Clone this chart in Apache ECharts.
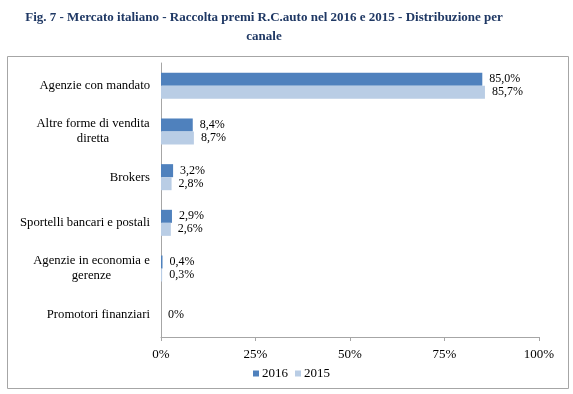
<!DOCTYPE html>
<html><head><meta charset="utf-8">
<script src="https://cdn.jsdelivr.net/npm/echarts@6/dist/echarts.min.js"></script>
<style>html,body{margin:0;padding:0;background:#fff}#c{width:573px;height:394px}</style>
</head><body><div id="c"></div>
<script>
var categories = ["Agenzie con mandato", "Altre forme di vendita\ndiretta", "Brokers", "Sportelli bancari e postali", "Agenzie in economia e\ngerenze", "Promotori finanziari"];
var values2016 = [85.0, 8.4, 3.2, 2.9, 0.4, 0];
var values2015 = [85.7, 8.7, 2.8, 2.6, 0.3, 0];
var xTicks = [0, 25, 50, 75, 100];
var seriesNames = ["2016", "2015"];
var titleText = "Fig. 7 - Mercato italiano - Raccolta premi R.C.auto nel 2016 e 2015 - Distribuzione per\ncanale";

var FONT = '"Liberation Serif", "Times New Roman", serif';
var CAT_SIZE = 12.7;
var chart = echarts.init(document.getElementById('c'));

function fmt(v) { return v === 0 ? '0%' : v.toFixed(1).replace('.', ',') + '%'; }

var ctx = document.createElement('canvas').getContext('2d');
ctx.font = CAT_SIZE + 'px ' + FONT;
function blockWidth(val) {
  var lines = val.split('\n');
  return Math.ceil(Math.max.apply(null, lines.map(function (l) { return ctx.measureText(l).width; })));
}
function catFormatter(val) {
  var lines = val.split('\n');
  if (lines.length === 1) return val;
  var key = 'c' + blockWidth(val);
  return lines.map(function (l) { return '{' + key + '|' + l + '}'; }).join('\n');
}
var rich = {};
categories.forEach(function (c) {
  if (c.indexOf('\n') >= 0) {
    var w = blockWidth(c);
    rich['c' + w] = { width: w, align: 'center', fontFamily: FONT, fontSize: CAT_SIZE, color: '#000', lineHeight: 15 };
  }
});

chart.setOption({
  animation: false,
  title: {
    text: titleText, left: 259, top: 3, textAlign: 'center',
    textStyle: { fontFamily: FONT, fontSize: 13, fontWeight: 'bold', color: '#1f3864', lineHeight: 19 }
  },
  graphic: [{
    type: 'rect', shape: { x: 7.5, y: 56.5, width: 561, height: 332 },
    style: { fill: 'none', stroke: '#a6a6a6', lineWidth: 1 }, silent: true
  }],
  legend: {
    bottom: 9, left: 248, itemWidth: 6, itemHeight: 6, itemGap: 7,
    icon: 'rect', data: seriesNames,
    textStyle: { fontFamily: FONT, fontSize: 13, color: '#000', padding: [0, 0, 0, -2] }
  },
  grid: { left: 161, right: 34, top: 63, bottom: 57, containLabel: false },
  xAxis: {
    type: 'value', min: 0, max: 100, interval: 25,
    axisLine: { show: true, lineStyle: { color: '#a6a6a6' } },
    axisTick: { show: true, inside: false, length: 4, lineStyle: { color: '#a6a6a6' } },
    splitLine: { show: false },
    axisLabel: {
      margin: 11, fontFamily: FONT, fontSize: 13, color: '#000',
      formatter: function (v) { return xTicks.indexOf(v) >= 0 ? v + '%' : ''; }
    }
  },
  yAxis: {
    type: 'category', inverse: true, data: categories,
    axisLine: { show: true, lineStyle: { color: '#a6a6a6' } },
    axisTick: { show: false },
    axisLabel: {
      margin: 11, fontFamily: FONT, fontSize: CAT_SIZE, color: '#000', lineHeight: 15,
      formatter: catFormatter, rich: rich
    }
  },
  series: [
    {
      name: seriesNames[0], type: 'bar', data: values2016, barGap: '0%', barCategoryGap: '43%',
      itemStyle: { color: '#4f81bd' },
      label: {
        show: true, position: 'right', distance: 7, fontFamily: FONT, fontSize: 12, color: '#000',
        formatter: function (p) { return fmt(p.value); }
      },
      labelLayout: function (p) {
        return p.dataIndex === 5 ? { dy: 7 } : {};
      }
    },
    {
      name: seriesNames[1], type: 'bar', data: values2015,
      itemStyle: { color: '#b9cde5' },
      label: {
        show: true, position: 'right', distance: 7, fontFamily: FONT, fontSize: 12, color: '#000',
        formatter: function (p) { return p.value === 0 ? '' : fmt(p.value); }
      }
    }
  ]
});
</script></body></html>
